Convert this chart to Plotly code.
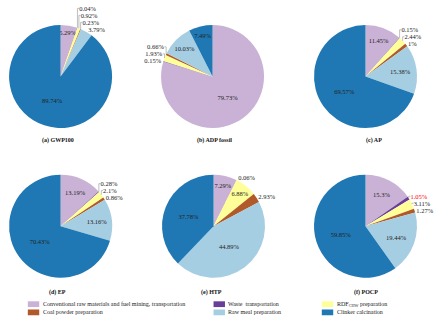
import plotly.graph_objects as go

W, H = 442, 322

categories = [
    "Conventional raw materials and fuel mining, transportation",
    "Waste  transportation",
    "RDF<sub>CHW</sub> preparation",
    "Coal powder preparation",
    "Raw meal preparation",
    "Clinker calcination",
]
colors = ["#cab2d6", "#6a3d9a", "#ffff99", "#b15928", "#a6cee3", "#1f78b4"]

panel_titles = ["(a) GWP100", "(b) ADP fossil", "(c) AP", "(d) EP", "(e) HTP", "(f) POCP"]

gwp100 = [5.29, 0.04, 0.92, 0.23, 3.79, 89.74]
adp_fossil = [79.73, 0.15, 1.93, 0.66, 10.03, 7.49]
ap = [11.45, 0.15, 2.44, 1, 15.38, 69.57]
ep = [13.19, 0.28, 2.1, 0.86, 13.16, 70.43]
htp = [7.29, 0.06, 6.88, 2.93, 44.89, 37.78]
pocp = [15.3, 1.05, 3.11, 1.27, 19.44, 59.85]

series = [gwp100, adp_fossil, ap, ep, htp, pocp]
highlight = {(5, 1): "#ff0000"}  # red label in POCP

FONT = "Liberation Serif"
TXT = "#222222"
LEADER = "#b0b0b0"

# layout positions (px)
centers = [(61, 67), (214, 67), (368, 67), (61, 222.5), (215, 222.5), (368, 222.5)]
R = 53.5
caption_pos = [(58, 133), (216, 133), (377, 133), (58, 291), (213, 291), (368, 291)]

fig = go.Figure()
for i, vals in enumerate(series):
    cx, cy = centers[i]
    texts = []
    for j, v in enumerate(vals):
        col = highlight.get((i, j), TXT)
        texts.append('<span style="color:%s">%s%%</span>' % (col, "%g" % v))
    pos = ["inside" if v >= 5 else "outside" for v in vals]
    fig.add_trace(go.Pie(
        labels=categories, values=vals, text=texts, textinfo="text",
        textposition=pos, insidetextorientation="horizontal",
        sort=False, direction="clockwise", rotation=0,
        marker=dict(colors=colors, line=dict(width=0)),
        textfont=dict(family=FONT, size=6.5, color=TXT),
        outsidetextfont=dict(family=FONT, size=6.5, color=LEADER),
        insidetextfont=dict(family=FONT, size=6.5, color=TXT),
        domain=dict(x=[(cx - R) / W, (cx + R) / W], y=[(H - cy - R) / H, (H - cy + R) / H]),
        showlegend=False, hoverinfo="label+percent",
    ))

annotations = []
for (x, y), t in zip(caption_pos, panel_titles):
    annotations.append(dict(x=x / W, y=1 - y / H, xref="paper", yref="paper",
                            text="<b>" + t + "</b>", showarrow=False,
                            font=dict(family=FONT, size=6, color="#111111"),
                            xanchor="center", yanchor="middle"))

# manual legend: 3 columns x 2 rows
col_x = [28, 215, 324]
row_y = [303.5, 312]
shapes = []
for k, (lab, col) in enumerate(zip(categories, colors)):
    r, c = divmod(k, 3)
    x0, y0 = col_x[c], row_y[r]
    shapes.append(dict(type="rect", xref="paper", yref="paper",
                       x0=x0 / W, x1=(x0 + 11.5) / W,
                       y0=1 - (y0 - 3) / H, y1=1 - (y0 + 3) / H,
                       fillcolor=col, line=dict(width=0)))
    annotations.append(dict(x=(x0 + 13) / W, y=1 - y0 / H, xref="paper", yref="paper",
                            text=lab, showarrow=False, xanchor="left", yanchor="middle",
                            font=dict(family=FONT, size=6, color=TXT)))

fig.update_layout(
    width=W, height=H, margin=dict(l=0, r=0, t=0, b=0),
    paper_bgcolor="white", plot_bgcolor="white",
    uniformtext=dict(minsize=6.5, mode="show"),
    annotations=annotations, shapes=shapes,
)
fig.write_html("out.html")
